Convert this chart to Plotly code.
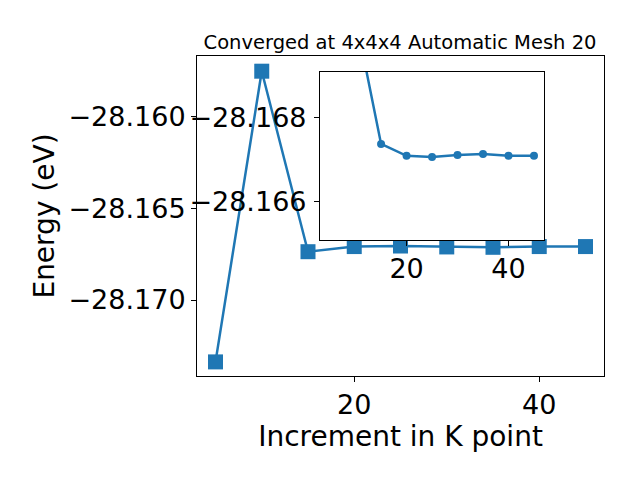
import plotly.graph_objects as go

# Main data
k_increment = [5, 10, 15, 20, 25, 30, 35, 40, 45]
energy = [-28.17338, -28.15750, -28.16736, -28.16708, -28.16705,
          -28.16710, -28.16712, -28.16708, -28.16708]

# Inset data
inset_k = [5, 15, 20, 25, 30, 35, 40, 45]
inset_energy = [-28.17338, -28.16736, -28.16708, -28.16705,
                -28.16710, -28.16712, -28.16708, -28.16708]

main_yticks = [-28.170, -28.165, -28.160]
inset_yticks = [-28.168, -28.166]
xticks = [20, 40]

BLUE = "#1f77b4"
FONT = "DejaVu Sans"

fig = go.Figure()
fig.add_trace(go.Scatter(
    x=k_increment, y=energy, mode="lines+markers",
    line=dict(color=BLUE, width=2.5),
    marker=dict(symbol="square", size=15, color=BLUE),
    xaxis="x", yaxis="y", showlegend=False, cliponaxis=True))
fig.add_trace(go.Scatter(
    x=inset_k, y=inset_energy, mode="lines+markers",
    line=dict(color=BLUE, width=2.5),
    marker=dict(symbol="circle", size=8, color=BLUE),
    xaxis="x2", yaxis="y2", showlegend=False, cliponaxis=True))

axis_common = dict(showgrid=False, zeroline=False, showline=True, linecolor="black",
                   linewidth=1, mirror=True, ticks="outside", ticklen=5, tickwidth=1,
                   tickcolor="black", automargin=False,
                   tickfont=dict(family=FONT, size=27, color="black"))

fig.update_layout(
    template="none",
    width=640, height=480,
    margin=dict(l=189, r=44, t=48, b=112, autoexpand=False),
    paper_bgcolor="white", plot_bgcolor="white",
    font=dict(family=FONT, color="black"),
    title=dict(text="Converged at 4x4x4 Automatic Mesh 20", x=0.6125, xanchor="center",
               y=0.929, yanchor="middle", font=dict(family=FONT, size=19.5, color="black")),
    xaxis=dict(domain=[0, 1], range=[3, 47], tickvals=xticks, anchor="y",
               title=dict(text="Increment in K point", font=dict(family=FONT, size=28), standoff=4),
               **axis_common),
    yaxis=dict(domain=[0, 1], range=[-28.17415, -28.15667], tickvals=main_yticks,
               tickformat=".3f", anchor="x", ticklabelstandoff=0,
               title=dict(text="Energy (eV)", font=dict(family=FONT, size=28), standoff=5),
               **axis_common),
    xaxis2=dict(domain=[0.302, 0.853], range=[3, 47], tickvals=xticks, anchor="y2",
                **axis_common),
    yaxis2=dict(domain=[0.425, 0.95], range=[-28.16508, -28.16907], tickvals=inset_yticks,
                tickformat=".3f", anchor="x2", ticklabelstandoff=2, **axis_common),
)

fig.write_html("out.html")
